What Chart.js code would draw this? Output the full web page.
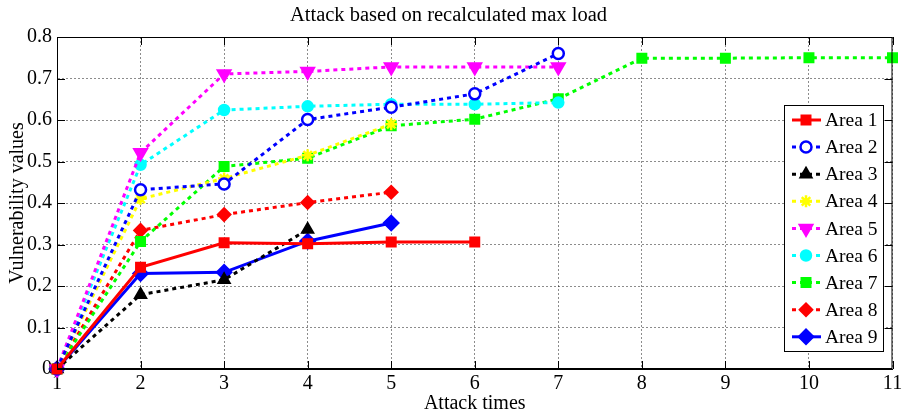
<!DOCTYPE html>
<html>
<head>
<meta charset="utf-8">
<title>Attack based on recalculated max load</title>
<script src="https://cdn.jsdelivr.net/npm/chart.js@4/dist/chart.umd.min.js"></script>
<style>
  html, body { margin: 0; padding: 0; background: #fff; }
  #wrap { width: 902px; height: 416px; }
</style>
</head>
<body>
<div id="wrap"><canvas id="attackChart" width="902" height="416"></canvas></div>
<script>
const attackTimes = [1, 2, 3, 4, 5, 6, 7, 8, 9, 10, 11];
const areaNames = ["Area 1", "Area 2", "Area 3", "Area 4", "Area 5", "Area 6", "Area 7", "Area 8", "Area 9"];

const area1 = [0, 0.245, 0.304, 0.302, 0.306, 0.306];
const area2 = [0, 0.432, 0.446, 0.601, 0.631, 0.663, 0.760];
const area3 = [0, 0.179, 0.215, 0.336];
const area4 = [0, 0.410, 0.459, 0.515, 0.590];
const area5 = [0, 0.521, 0.711, 0.717, 0.728, 0.728, 0.728];
const area6 = [0, 0.492, 0.624, 0.633, 0.638, 0.638, 0.642];
const area7 = [0, 0.307, 0.488, 0.508, 0.586, 0.602, 0.651, 0.749, 0.749, 0.750, 0.750];
const area8 = [0, 0.334, 0.372, 0.401, 0.426];
const area9 = [0, 0.230, 0.233, 0.308, 0.352];

const yTicks = [0, 0.1, 0.2, 0.3, 0.4, 0.5, 0.6, 0.7, 0.8];

const FONT = "'Liberation Serif', 'Times New Roman', serif";
const DOTS = [4, 4];

// marker/line look per area, MATLAB-ish
const styles = [
  { color: "#ff0000", dash: [], point: "rect", radius: 6, fill: "#ff0000" },
  { color: "#0000ff", dash: DOTS, point: "circle", radius: 5.5, fill: "#ffffff" },
  { color: "#000000", dash: DOTS, point: "triangle", radius: 6, fill: "#000000" },
  { color: "#ffff00", dash: DOTS, point: "star", radius: 6, fill: "#ffff00" },
  { color: "#ff00ff", dash: DOTS, point: "triangle", radius: 7, fill: "#ff00ff", rotation: 180 },
  { color: "#00ffff", dash: DOTS, point: "circle", radius: 5, fill: "#00ffff" },
  { color: "#00ff00", dash: DOTS, point: "rect", radius: 6, fill: "#00ff00" },
  { color: "#ff0000", dash: DOTS, point: "rectRot", radius: 6, fill: "#ff0000" },
  { color: "#0000ff", dash: [], point: "rectRot", radius: 7, fill: "#0000ff" }
];

const series = [area1, area2, area3, area4, area5, area6, area7, area8, area9];

const datasets = series.map((values, i) => {
  const s = styles[i];
  return {
    label: areaNames[i],
    data: values.map((v, k) => ({ x: attackTimes[k], y: v })),
    borderColor: s.color,
    borderWidth: 3,
    borderDash: s.dash,
    borderCapStyle: "butt",
    pointStyle: s.point,
    pointRadius: s.radius,
    pointRotation: s.rotation || 0,
    pointBorderWidth: 2.5,
    pointBorderColor: s.color,
    pointBackgroundColor: s.fill,
    tension: 0,
    fill: false,
    clip: false
  };
});

// box around axes, inward ticks and the legend
const matlabFrame = {
  id: "matlabFrame",
  afterDatasetsDraw(chart) {
    const { ctx, chartArea: a, scales } = chart;
    ctx.save();
    ctx.strokeStyle = "#000";
    ctx.lineWidth = 1;
    ctx.setLineDash([]);
    ctx.strokeRect(a.left + 0.5, a.top + 0.5, a.right - a.left - 1, a.bottom - a.top - 1);
    ctx.beginPath();
    attackTimes.forEach(t => {
      const x = Math.round(scales.x.getPixelForValue(t)) + 0.5;
      ctx.moveTo(x, a.bottom); ctx.lineTo(x, a.bottom - 8);
      ctx.moveTo(x, a.top); ctx.lineTo(x, a.top + 8);
    });
    yTicks.forEach(v => {
      const y = Math.round(scales.y.getPixelForValue(v)) + 0.5;
      ctx.moveTo(a.left, y); ctx.lineTo(a.left + 8, y);
      ctx.moveTo(a.right, y); ctx.lineTo(a.right - 8, y);
    });
    ctx.stroke();
    ctx.restore();
  },
  afterDraw(chart) {
    const { ctx } = chart;
    const box = { x: 784.5, y: 105.5, w: 99, h: 246 };
    ctx.save();
    ctx.fillStyle = "#fff";
    ctx.fillRect(box.x, box.y, box.w, box.h);
    ctx.strokeStyle = "#000";
    ctx.lineWidth = 1;
    ctx.setLineDash([]);
    ctx.strokeRect(box.x, box.y, box.w, box.h);
    ctx.font = "19.5px " + FONT;
    ctx.textBaseline = "middle";
    ctx.textAlign = "left";
    chart.data.datasets.forEach((ds, i) => {
      const y = 120 + i * 27.1;
      ctx.strokeStyle = ds.borderColor;
      ctx.lineWidth = 3;
      ctx.setLineDash(ds.borderDash);
      ctx.beginPath();
      ctx.moveTo(792, y);
      ctx.lineTo(821, y);
      ctx.stroke();
      ctx.setLineDash([]);
      ctx.fillStyle = ds.pointBackgroundColor;
      ctx.strokeStyle = ds.pointBorderColor;
      ctx.lineWidth = ds.pointBorderWidth;
      const opts = { pointStyle: ds.pointStyle, rotation: ds.pointRotation, radius: ds.pointRadius, borderWidth: ds.pointBorderWidth };
      if (Chart.helpers && Chart.helpers.drawPoint) {
        Chart.helpers.drawPoint(ctx, opts, 806, y);
      } else {
        ctx.beginPath();
        ctx.arc(806, y, ds.pointRadius, 0, Math.PI * 2);
        ctx.fill();
        ctx.stroke();
      }
      ctx.fillStyle = "#000";
      ctx.fillText(ds.label, 825, y + 1);
    });
    ctx.restore();
  }
};

new Chart(document.getElementById("attackChart"), {
  type: "line",
  data: { datasets: datasets },
  options: {
    responsive: false,
    animation: false,
    layout: { padding: { right: 5 } },
    plugins: {
      legend: { display: false },
      tooltip: { enabled: false },
      title: {
        display: true,
        text: "Attack based on recalculated max load",
        color: "#000",
        font: { family: FONT, size: 20.5, weight: "normal" },
        padding: { top: 3, bottom: 9.4 }
      }
    },
    scales: {
      x: {
        type: "linear",
        min: 1,
        max: 11,
        afterBuildTicks: scale => { scale.ticks = attackTimes.map(v => ({ value: v })); },
        afterFit: scale => { scale.height = 47; scale.paddingLeft = 0; scale.paddingRight = 0; },
        ticks: { color: "#000", font: { family: FONT, size: 20 }, padding: 3, maxRotation: 0, autoSkip: false },
        grid: { color: "rgba(0,0,0,0.45)", lineWidth: 1, drawTicks: false },
        border: { display: true, color: "#000", dash: [2, 2] },
        title: { display: true, text: "Attack times", color: "#000", font: { family: FONT, size: 20 }, padding: { top: 0, bottom: 0 } }
      },
      y: {
        min: 0,
        max: 0.8,
        afterBuildTicks: scale => { scale.ticks = yTicks.map(v => ({ value: v })); },
        afterFit: scale => { scale.width = 57; scale.paddingTop = 0; scale.paddingBottom = 0; },
        ticks: { color: "#000", font: { family: FONT, size: 20 }, padding: 5, callback: v => String(Math.round(v * 10) / 10) },
        grid: { color: "rgba(0,0,0,0.45)", lineWidth: 1, drawTicks: false },
        border: { display: true, color: "#000", dash: [2, 2] },
        title: { display: true, text: "Vulnerability values", color: "#000", font: { family: FONT, size: 20 }, padding: { top: 6, bottom: 0 } }
      }
    }
  },
  plugins: [matlabFrame]
});
</script>
</body>
</html>
